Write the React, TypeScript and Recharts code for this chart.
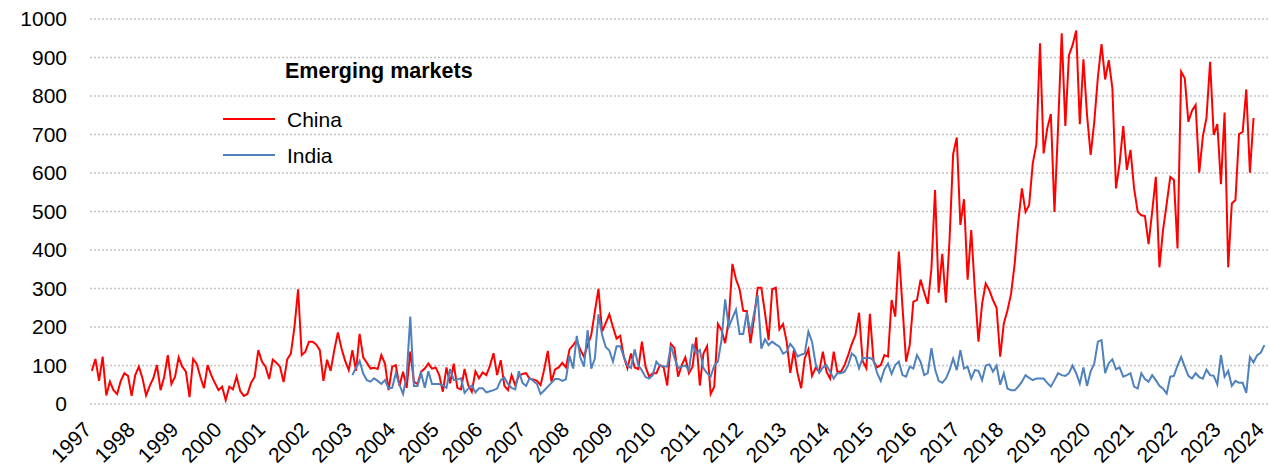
import React from 'react';
import { LineChart, Line, XAxis, YAxis, CartesianGrid, Legend } from 'recharts';

// Monthly series, starting January 1997 (index 0). India starts January 2003 (index 72).
const START_YEAR = 1997;
const INDIA_START_INDEX = 72;

const chinaValues: number[] = [
  86, 117, 60, 123, 22, 58, 36, 26, 60, 80,
  73, 21, 75, 97, 67, 22, 47, 67, 101, 36,
  71, 127, 52, 71, 121, 97, 84, 18, 117, 104,
  70, 41, 101, 75, 55, 36, 45, 10, 45, 38,
  71, 34, 21, 26, 55, 71, 140, 110, 97, 65,
  115, 107, 97, 57, 116, 131, 200, 298, 127, 136,
  162, 162, 155, 140, 60, 115, 86, 140, 186, 144,
  112, 88, 140, 86, 182, 121, 107, 92, 94, 91,
  127, 105, 36, 97, 101, 47, 84, 42, 136, 58,
  52, 84, 92, 105, 92, 95, 75, 32, 95, 54,
  105, 42, 38, 91, 49, 32, 85, 67, 82, 75,
  99, 132, 75, 114, 47, 36, 75, 49, 73, 78,
  80, 65, 64, 60, 49, 90, 138, 58, 90, 95,
  107, 95, 142, 153, 166, 140, 123, 153, 179, 240,
  299, 188, 210, 233, 200, 170, 177, 123, 93, 131,
  95, 91, 162, 97, 71, 80, 80, 101, 95, 48,
  156, 145, 71, 101, 121, 80, 97, 173, 48, 131,
  150, 26, 45, 208, 192, 158, 218, 364, 324, 298,
  242, 241, 158, 223, 302, 302, 237, 166, 298, 302,
  194, 208, 162, 81, 140, 80, 41, 119, 142, 73,
  94, 84, 136, 84, 66, 136, 84, 84, 101, 127,
  156, 179, 237, 112, 93, 234, 112, 95, 101, 127,
  123, 270, 227, 396, 253, 110, 153, 266, 270, 323,
  290, 260, 352, 556, 289, 390, 263, 426, 649, 692,
  465, 532, 323, 452, 296, 162, 260, 313, 296, 270,
  250, 123, 209, 243, 286, 364, 473, 560, 499, 517,
  625, 675, 937, 651, 716, 753, 499, 720, 963, 722,
  906, 932, 970, 727, 895, 750, 647, 733, 850, 935,
  843, 893, 820, 560, 625, 722, 608, 660, 560, 499,
  490, 488, 415, 500, 590, 355, 452, 520, 590, 582,
  404, 863, 846, 733, 762, 777, 601, 695, 743, 889,
  699, 727, 571, 757, 355, 521, 530, 701, 707, 817,
  601, 743,
];

const indiaValues: number[] = [
  75, 94, 112, 79, 62, 58, 67, 60,
  52, 62, 41, 42, 80, 50, 26, 73, 227, 47,
  47, 80, 42, 85, 52, 52, 52, 48, 42, 91,
  62, 64, 67, 29, 40, 48, 30, 41, 41, 30,
  33, 36, 40, 62, 69, 52, 42, 38, 85, 55,
  47, 68, 60, 52, 26, 35, 45, 55, 65, 65,
  60, 64, 125, 92, 177, 120, 97, 192, 92, 118,
  233, 180, 148, 139, 110, 150, 150, 123, 100, 94,
  142, 101, 87, 70, 66, 75, 110, 99, 98, 97,
  151, 120, 93, 97, 100, 87, 156, 131, 140, 93,
  80, 71, 100, 110, 166, 272, 200, 223, 245, 182,
  182, 237, 184, 236, 283, 144, 168, 153, 162, 155,
  149, 131, 136, 156, 144, 123, 128, 131, 188, 162,
  105, 81, 95, 101, 84, 66, 80, 80, 84, 101,
  131, 123, 93, 120, 119, 120, 114, 80, 60, 90,
  105, 78, 101, 110, 75, 71, 97, 92, 127, 110,
  75, 80, 145, 90, 60, 55, 66, 88, 118, 88,
  140, 92, 97, 66, 88, 86, 62, 100, 103, 84,
  100, 50, 80, 40, 36, 36, 45, 58, 75, 68,
  62, 66, 66, 66, 55, 45, 62, 80, 75, 73,
  80, 100, 80, 53, 95, 47, 85, 105, 162, 166,
  80, 106, 116, 90, 95, 71, 75, 80, 45, 40,
  80, 65, 58, 75, 62, 47, 40, 27, 71, 73,
  100, 122, 97, 73, 66, 80, 70, 66, 89, 75,
  73, 51, 127, 71, 86, 47, 60, 55, 55, 29,
  122, 108, 127, 133, 153,
];

const yearLabels: number[] = [
  1997, 1998, 1999, 2000, 2001, 2002, 2003, 2004, 2005, 2006, 2007, 2008, 2009, 2010,
  2011, 2012, 2013, 2014, 2015, 2016, 2017, 2018, 2019, 2020, 2021, 2022, 2023, 2024,
];
const yTicks: number[] = [0, 100, 200, 300, 400, 500, 600, 700, 800, 900, 1000];

const legendTitle = 'Emerging markets';
const chinaName = 'China';
const indiaName = 'India';

const FONT = '"Liberation Sans", Arial, sans-serif';

const monthCount = Math.max(chinaValues.length, INDIA_START_INDEX + indiaValues.length);
const data = Array.from({ length: monthCount }, (_, m) => ({
  m,
  china: m < chinaValues.length ? chinaValues[m] : null,
  india: m >= INDIA_START_INDEX && m - INDIA_START_INDEX < indiaValues.length ? indiaValues[m - INDIA_START_INDEX] : null,
}));
const xTicks = yearLabels.map((y) => (y - START_YEAR) * 12);

const YearTick = (props: any) => {
  const { x, y, payload } = props;
  const tx = x + 1;
  const ty = y + 27;
  return (
    <text
      x={tx}
      y={ty}
      transform={`rotate(-45 ${tx} ${ty})`}
      textAnchor="end"
      fontSize={21}
      fontFamily={FONT}
      fill="#000"
    >
      {START_YEAR + Math.round(payload.value / 12)}
    </text>
  );
};

const renderLegend = (props: any) => {
  const payload = props.payload || [];
  return (
    <svg width={520} height={180} style={{ display: 'block' }}>
      <text x={285} y={78} fontSize={21.5} fontWeight="bold" fontFamily={FONT} fill="#000">
        {legendTitle}
      </text>
      {payload.map((entry: any, i: number) => (
        <g key={entry.value}>
          <line x1={223} x2={275} y1={119 + 36 * i} y2={119 + 36 * i} stroke={entry.color} strokeWidth={2} />
          <text x={287} y={126.5 + 36 * i} fontSize={21} fontFamily={FONT} fill="#000">
            {entry.value}
          </text>
        </g>
      ))}
    </svg>
  );
};

export default function App() {
  return (
    <div style={{ position: 'absolute', left: 0, top: 0, background: '#fff' }}>
      <LineChart width={1270} height={467} data={data} margin={{ top: 19, right: 2, bottom: 0, left: 0 }}>
        <CartesianGrid horizontal vertical={false} stroke="#c4c4c4" strokeDasharray="2 2" strokeWidth={1.3} />
        <XAxis
          dataKey="m"
          type="number"
          domain={[-0.5, 325]}
          ticks={xTicks}
          interval={0}
          axisLine={false}
          tickLine={false}
          tickSize={0}
          tickMargin={0}
          height={63}
          tick={<YearTick />}
        />
        <YAxis
          domain={[0, 1000]}
          ticks={yTicks}
          interval={0}
          axisLine={false}
          tickLine={false}
          tickSize={0}
          tickMargin={23}
          width={90}
          tick={{ fontSize: 21, fontFamily: FONT, fill: '#000' }}
        />
        <Legend
          layout="horizontal"
          verticalAlign="middle"
          align="center"
          wrapperStyle={{ left: 0, top: 0, width: 520, height: 180 }}
          content={renderLegend}
        />
        <Line
          type="linear"
          dataKey="china"
          name={chinaName}
          stroke="#ff0000"
          strokeWidth={2}
          dot={false}
          isAnimationActive={false}
        />
        <Line
          type="linear"
          dataKey="india"
          name={indiaName}
          stroke="#4f81bd"
          strokeWidth={2}
          dot={false}
          isAnimationActive={false}
        />
      </LineChart>
    </div>
  );
}
